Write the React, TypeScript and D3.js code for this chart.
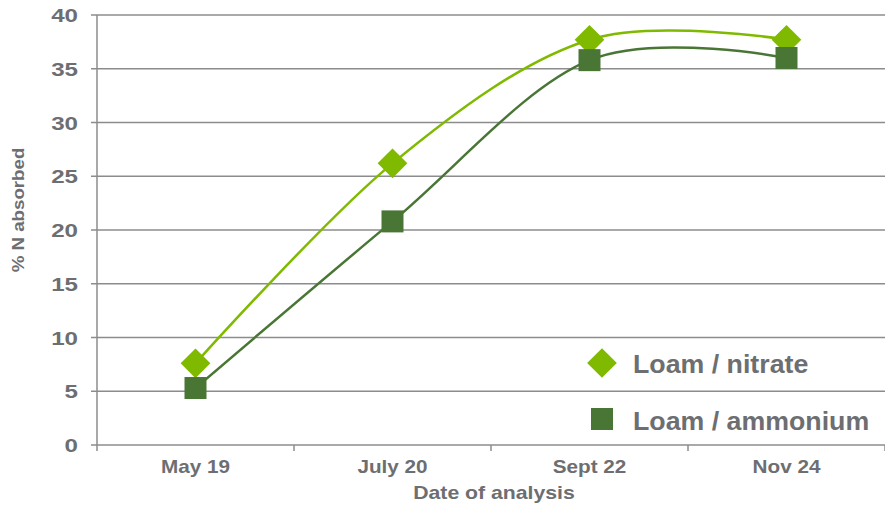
import React from 'react';
import * as d3 from 'd3';

const categories = ['May 19', 'July 20', 'Sept 22', 'Nov 24'];
const nitrate = [7.6, 26.2, 37.7, 37.7];
const ammonium = [5.3, 20.8, 35.8, 36.0];
const yTicks = [0, 5, 10, 15, 20, 25, 30, 35, 40];
const seriesNames = ['Loam / nitrate', 'Loam / ammonium'];

const width = 885;
const height = 506;
const margin = { top: 15, right: 0, bottom: 61, left: 97 };

const textColor = '#6d6e71';
const gridColor = '#8c8c8c';
const nitrateColor = '#7fba00';
const ammoniumColor = '#4a7635';

// the reference type is wider than Liberation Sans, so stretch it a bit
const SText: React.FC<{
  x: number;
  y: number;
  sx: number;
  size: number;
  anchor?: 'start' | 'middle' | 'end';
  rotate?: number;
  children: React.ReactNode;
}> = ({ x, y, sx, size, anchor = 'start', rotate = 0, children }) => (
  <text
    transform={`translate(${x},${y}) rotate(${rotate}) scale(${sx},1)`}
    textAnchor={anchor}
    fill={textColor}
    fontSize={size}
    fontWeight="bold"
  >
    {children}
  </text>
);

const App: React.FC = () => {
  const x = d3
    .scaleBand()
    .domain(categories)
    .range([margin.left, width - margin.right]);

  const y = d3
    .scaleLinear()
    .domain([0, 40])
    .range([height - margin.bottom, margin.top]);

  const cx = (c: string) => (x(c) || 0) + x.bandwidth() / 2;

  const line = d3
    .line<number>()
    .x((_, i) => cx(categories[i]))
    .y((d) => y(d))
    .curve(d3.curveCardinal.tension(0));

  const font = '"Liberation Sans", Arial, Helvetica, sans-serif';
  const boundaries = categories.map((c) => x(c) || 0).concat([width - margin.right]);

  return (
    <div style={{ position: 'absolute', left: 0, top: 0 }}>
      <svg width={width} height={height} style={{ display: 'block', fontFamily: font }}>
        {/* gridlines + y labels */}
        {yTicks.map((t) => (
          <g key={t}>
            <line
              x1={margin.left - 6}
              x2={width}
              y1={y(t)}
              y2={y(t)}
              stroke={gridColor}
              strokeWidth={1.5}
            />
            <SText x={78} y={y(t) + 7} sx={1.27} size={19} anchor="end">
              {t}
            </SText>
          </g>
        ))}
        <line
          x1={margin.left}
          x2={margin.left}
          y1={y(40)}
          y2={y(0)}
          stroke={gridColor}
          strokeWidth={1.5}
        />
        {boundaries.map((b, i) => (
          <line key={i} x1={b} x2={b} y1={y(0)} y2={y(0) + 6} stroke={gridColor} strokeWidth={1.5} />
        ))}
        {categories.map((c) => (
          <SText key={c} x={cx(c)} y={473} sx={1.15} size={18} anchor="middle">
            {c}
          </SText>
        ))}
        <SText x={494} y={499} sx={1.18} size={18} anchor="middle">
          Date of analysis
        </SText>
        <SText x={24} y={210} sx={1.1} size={17} anchor="middle" rotate={-90}>
          % N absorbed
        </SText>

        {/* lines */}
        <path d={line(ammonium) || ''} fill="none" stroke={ammoniumColor} strokeWidth={2.5} />
        <path d={line(nitrate) || ''} fill="none" stroke={nitrateColor} strokeWidth={2.5} />

        {/* markers */}
        {nitrate.map((v, i) => (
          <rect
            key={'n' + i}
            x={-10.5}
            y={-10.5}
            width={21}
            height={21}
            fill={nitrateColor}
            transform={`translate(${cx(categories[i])},${y(v)}) rotate(45)`}
          />
        ))}
        {ammonium.map((v, i) => (
          <rect
            key={'a' + i}
            x={cx(categories[i]) - 11}
            y={y(v) - 11}
            width={22}
            height={22}
            fill={ammoniumColor}
          />
        ))}

        {/* legend */}
        <rect
          x={-10.5}
          y={-10.5}
          width={21}
          height={21}
          fill={nitrateColor}
          transform="translate(602,363) rotate(45)"
        />
        <SText x={633} y={373} sx={1.07} size={25}>
          {seriesNames[0]}
        </SText>
        <rect x={591} y={408} width={22} height={22} fill={ammoniumColor} />
        <SText x={633} y={430} sx={1.07} size={25}>
          {seriesNames[1]}
        </SText>
      </svg>
    </div>
  );
};

export default App;
